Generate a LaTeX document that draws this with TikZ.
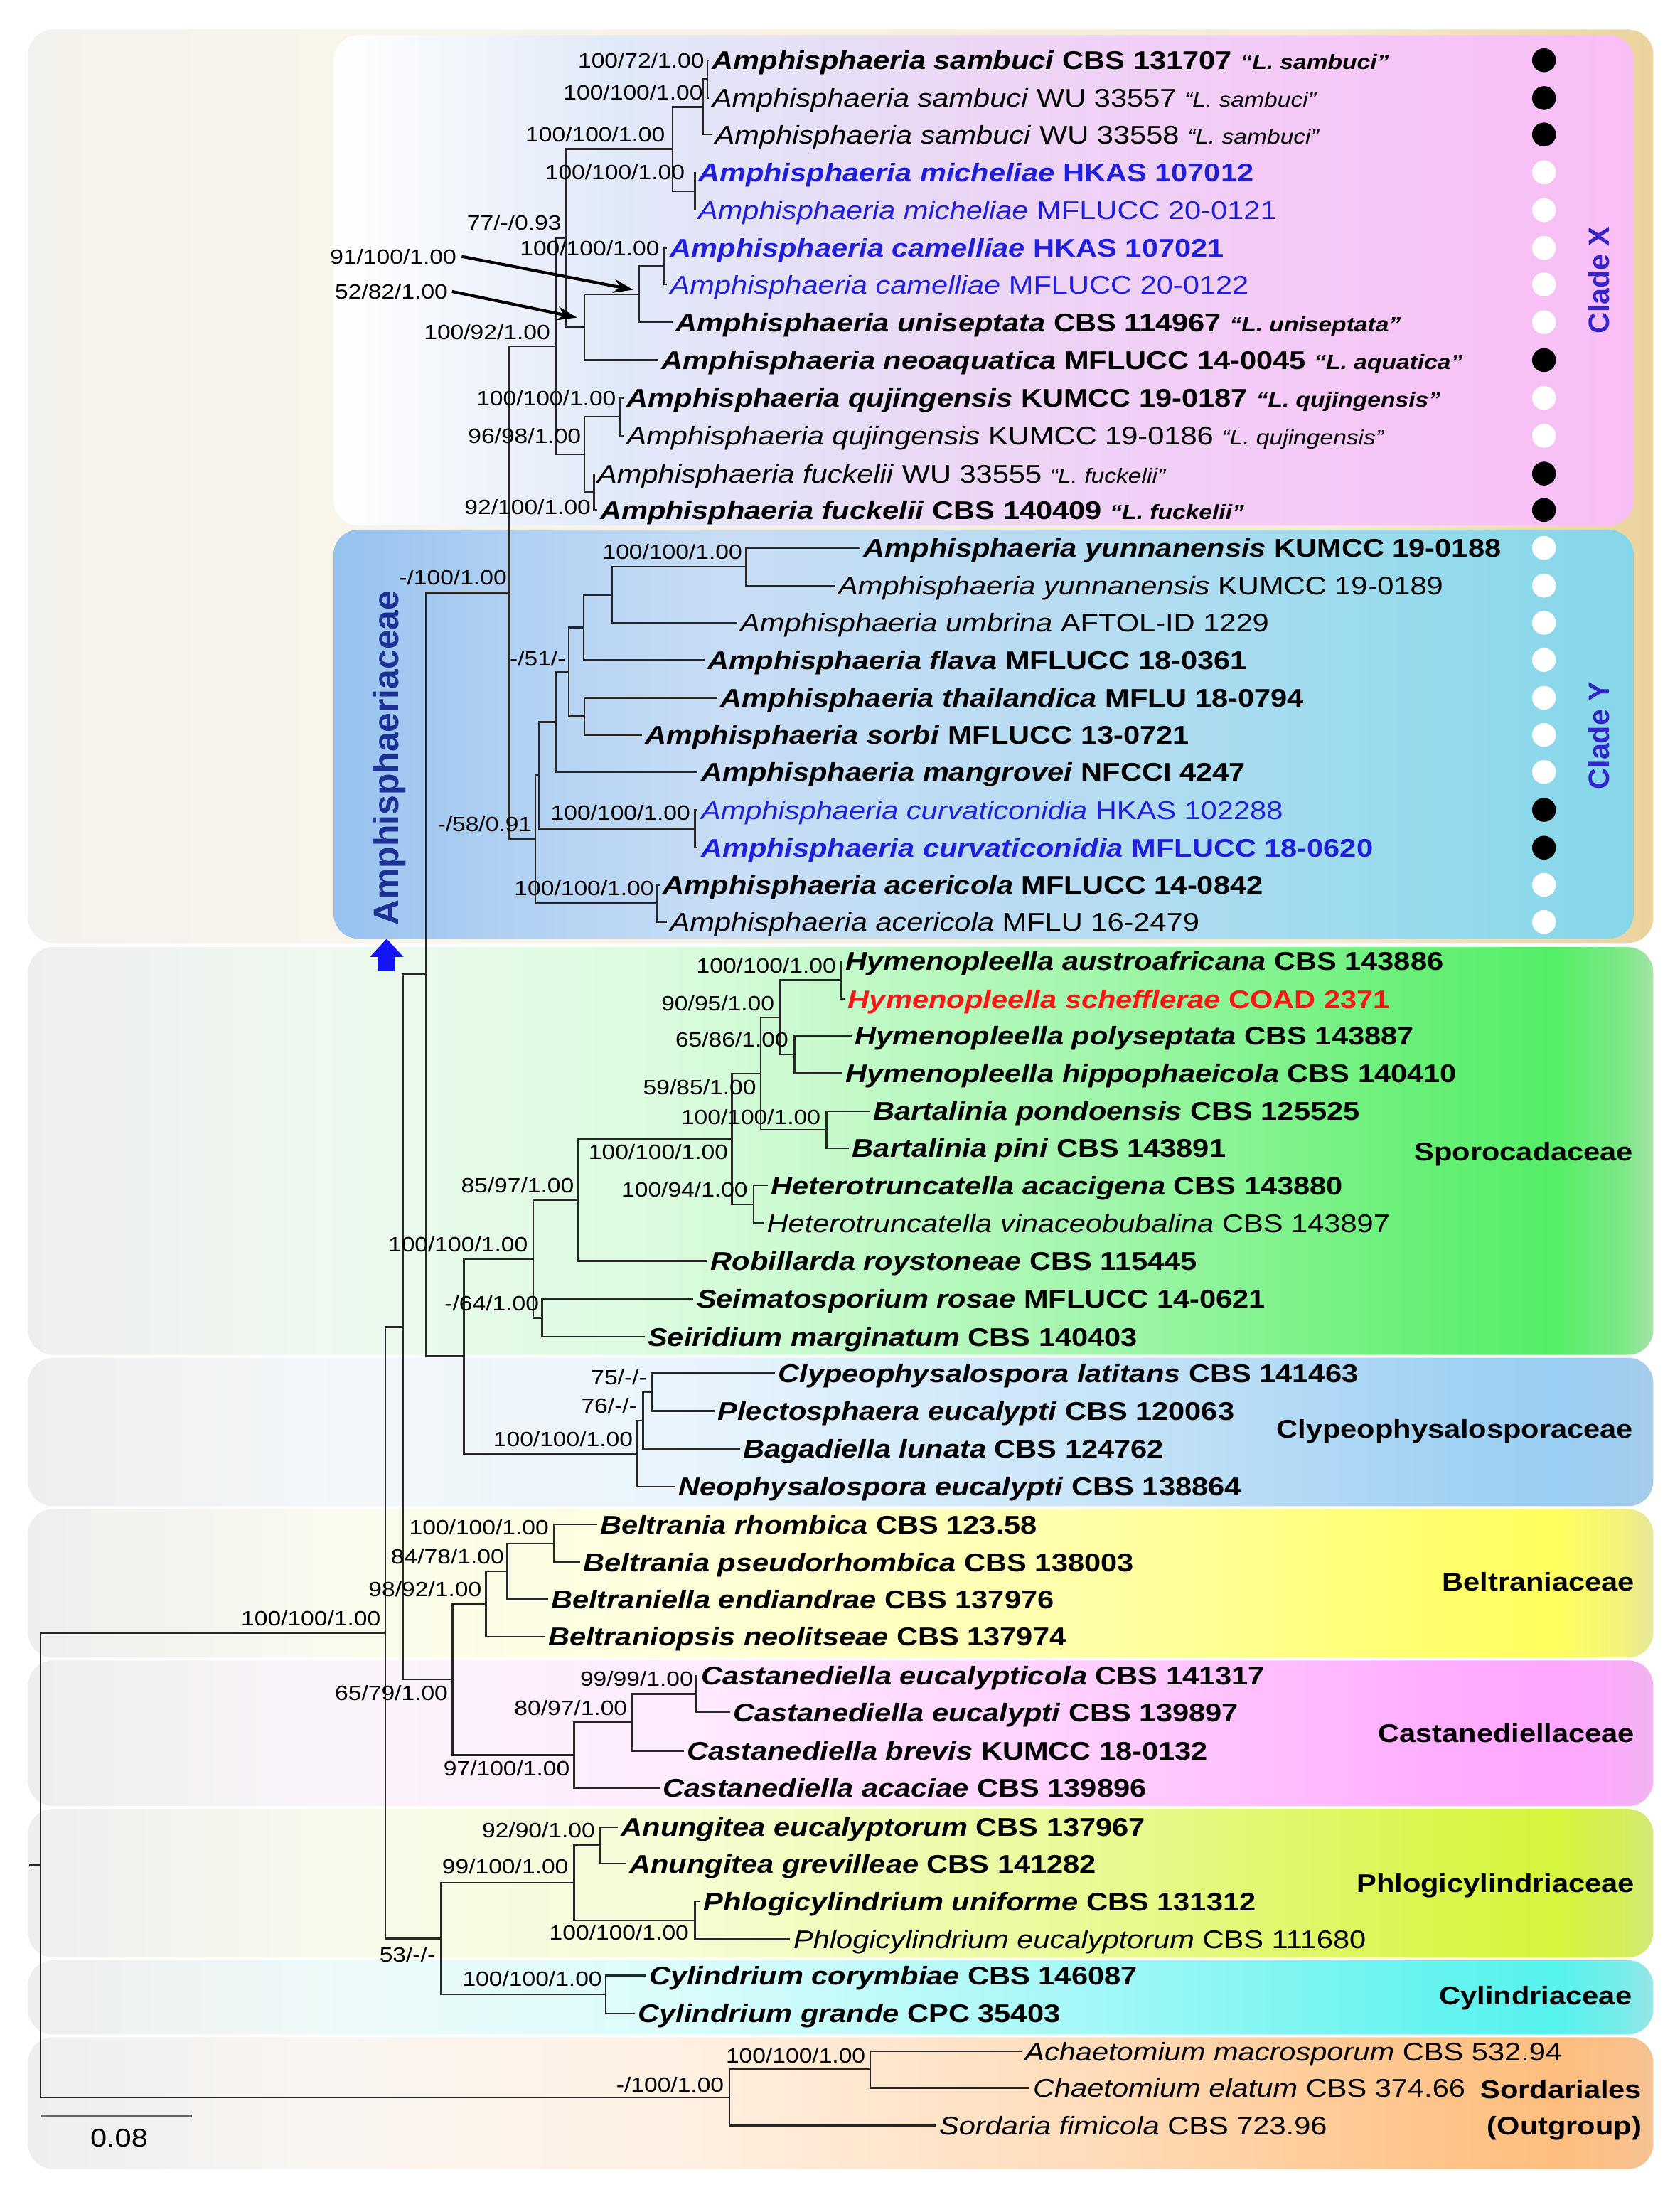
\documentclass[tikz,border=0pt]{standalone}
\usepackage{fontspec}
\setmainfont[FakeStretch=1.155]{Liberation Sans}
\newfontfamily\plainfont{Liberation Sans}
\usetikzlibrary{arrows.meta,calc}

\definecolor{txblue}{RGB}{30,30,220}
\definecolor{txred}{RGB}{255,20,20}
\definecolor{amphblue}{RGB}{28,48,150}
\definecolor{cladeblue}{RGB}{50,35,205}
\definecolor{arrowblue}{RGB}{20,20,250}
\definecolor{ambgA}{HTML}{F4F2EC}
\definecolor{ambgB}{HTML}{FAF5EB}
\definecolor{ambgC}{HTML}{F6EBD2}
\definecolor{ambgD}{HTML}{EAD39C}
\definecolor{cxA}{HTML}{E0E9F8}
\definecolor{cxB}{HTML}{ECD6F5}
\definecolor{cxC}{HTML}{F6C6F6}
\definecolor{cxD}{HTML}{F9BEF6}
\definecolor{cyA}{HTML}{96C2EE}
\definecolor{cyB}{HTML}{ADCFF2}
\definecolor{cyC}{HTML}{C8DDF5}
\definecolor{cyD}{HTML}{B5DCF1}
\definecolor{cyE}{HTML}{93DAEC}
\definecolor{cyF}{HTML}{86D6E9}
\definecolor{famgray}{HTML}{EEEEEE}
\definecolor{sporM}{HTML}{55EE66}\definecolor{sporE}{HTML}{A3E3A6}
\definecolor{clypM}{HTML}{9ACEF2}\definecolor{clypE}{HTML}{A6CCEA}
\definecolor{beltM}{HTML}{FFFF5E}\definecolor{beltE}{HTML}{E6E69A}
\definecolor{castM}{HTML}{FFA6FF}\definecolor{castE}{HTML}{F0B4F0}
\definecolor{phloM}{HTML}{D6F53C}\definecolor{phloE}{HTML}{D2E87A}
\definecolor{cyliM}{HTML}{55F2EE}\definecolor{cyliE}{HTML}{98E6E6}
\definecolor{sordM}{HTML}{FFBE7E}\definecolor{sordE}{HTML}{F4C294}

\pgfdeclarehorizontalshading{shAmph}{100bp}{color(0bp)=(ambgA); color(25bp)=(ambgA); color(35bp)=(ambgB); color(65bp)=(ambgC); color(75bp)=(ambgD); color(100bp)=(ambgD)}
\pgfdeclarehorizontalshading{shX}{100bp}{color(0bp)=(white); color(25bp)=(white); color(36bp)=(cxA); color(50bp)=(cxB); color(66bp)=(cxC); color(75bp)=(cxD); color(100bp)=(cxD)}
\pgfdeclarehorizontalshading{shY}{100bp}{color(0bp)=(cyA); color(25bp)=(cyA); color(31bp)=(cyB); color(40bp)=(cyC); color(55bp)=(cyD); color(68bp)=(cyE); color(75bp)=(cyF); color(100bp)=(cyF)}
\newcommand{\famshade}[3]{%
 \pgfdeclarehorizontalshading{#1}{100bp}{color(0bp)=(famgray); color(25bp)=(famgray); color(34bp)=(#2!7!white!98!black); color(45bp)=(#2!22!white); color(58bp)=(#2!55!white); color(68bp)=(#2!90!white); color(72bp)=(#2); color(74bp)=(#2!50!#3); color(75bp)=(#3); color(100bp)=(#3)}}
\famshade{shSpor}{sporM}{sporE}
\famshade{shClyp}{clypM}{clypE}
\famshade{shBelt}{beltM}{beltE}
\famshade{shCast}{castM}{castE}
\famshade{shPhlo}{phloM}{phloE}
\famshade{shCyli}{cyliM}{cyliE}
\famshade{shSord}{sordM}{sordE}

\newcommand{\taxfont}{\fontsize{10.4}{12.5}\selectfont}
\newcommand{\supfont}{\fontsize{8.4}{10}\selectfont}
\newcommand{\qufont}{\fontsize{8.4}{10}\selectfont}
\newcommand{\TaxB}[2]{\textbf{\textit{#1} #2}}
\newcommand{\TaxN}[2]{\textit{#1} #2}
\newcommand{\QuB}[1]{{\qufont\bfseries\itshape “#1”}}
\newcommand{\QuN}[1]{{\qufont\itshape “#1”}}
\newcommand{\Row}[4]{\coordinate (p#1) at ({#2-2},#3); \node[tx] (t#1) at (#2,{#3+6.6}) {#4};}
\newcommand{\Sup}[4]{\node[sup] (#1) at (#2,{#3+5.3}) {#4};}
\newcommand{\Br}[2]{\draw[br] (#1) |- (#2);}

\begin{document}
\begin{tikzpicture}[x=0.02cm,y=-0.02cm,
  tx/.style={anchor=base west, inner sep=0pt, font=\taxfont},
  sup/.style={anchor=base east, inner sep=0pt, font=\supfont},
  fam/.style={anchor=base east, inner sep=0pt, font=\taxfont\bfseries},
  br/.style={line width=0.7pt, draw=black!85},
  arr/.style={line width=1.2pt, draw=black, -{Stealth[length=8pt,width=5.5pt]}},
  dotk/.style={circle, fill=black, minimum size=0.34cm, inner sep=0pt},
  dotw/.style={circle, fill=white, minimum size=0.34cm, inner sep=0pt},
  panel/.style={rounded corners=0.36cm}]
\useasboundingbox (0,0) rectangle (1199,1568);
\fill[white] (0,0) rectangle (1199,1568);

% ---------- panels ----------
\path[panel, shading=shAmph] (20,21) rectangle (1180,673);
\path[panel, shading=shX] (238,25) rectangle (1166,375);
\path[panel, shading=shY] (238,378) rectangle (1166,670);
\path[panel, shading=shSpor] (20,676) rectangle (1180,967);
\path[panel, shading=shClyp] (20,969) rectangle (1180,1075);
\path[panel, shading=shBelt] (20,1077) rectangle (1180,1183);
\path[panel, shading=shCast] (20,1185) rectangle (1180,1289);
\path[panel, shading=shPhlo] (20,1291) rectangle (1180,1397);
\path[panel, shading=shCyli] (20,1399) rectangle (1180,1452);
\path[panel, shading=shSord] (20,1454) rectangle (1180,1548);

% ---------- taxa ----------
\Row{1}{508}{43}{\TaxB{Amphisphaeria sambuci}{CBS 131707} \QuB{L. sambuci}}
\Row{2}{508}{70}{\TaxN{Amphisphaeria sambuci}{WU 33557} \QuN{L. sambuci}}
\Row{3}{510}{96}{\TaxN{Amphisphaeria sambuci}{WU 33558} \QuN{L. sambuci}}
\Row{4}{498}{123}{\color{txblue}\TaxB{Amphisphaeria micheliae}{HKAS 107012}}
\Row{5}{498}{150}{\color{txblue}\TaxN{Amphisphaeria micheliae}{MFLUCC 20-0121}}
\Row{6}{478}{177}{\color{txblue}\TaxB{Amphisphaeria camelliae}{HKAS 107021}}
\Row{7}{478}{203}{\color{txblue}\TaxN{Amphisphaeria camelliae}{MFLUCC 20-0122}}
\Row{8}{482}{230}{\TaxB{Amphisphaeria uniseptata}{CBS 114967} \QuB{L. uniseptata}}
\Row{9}{472}{257}{\TaxB{Amphisphaeria neoaquatica}{MFLUCC 14-0045} \QuB{L. aquatica}}
\Row{10}{447}{284}{\TaxB{Amphisphaeria qujingensis}{KUMCC 19-0187} \QuB{L. qujingensis}}
\Row{11}{447}{311}{\TaxN{Amphisphaeria qujingensis}{KUMCC 19-0186} \QuN{L. qujingensis}}
\Row{12}{426}{338}{\TaxN{Amphisphaeria fuckelii}{WU 33555} \QuN{L. fuckelii}}
\Row{13}{428}{364}{\TaxB{Amphisphaeria fuckelii}{CBS 140409} \QuB{L. fuckelii}}
\Row{14}{616}{391}{\TaxB{Amphisphaeria yunnanensis}{KUMCC 19-0188}}
\Row{15}{598}{418}{\TaxN{Amphisphaeria yunnanensis}{KUMCC 19-0189}}
\Row{16}{528}{444.5}{\TaxN{Amphisphaeria umbrina}{AFTOL-ID 1229}}
\Row{17}{505}{471}{\TaxB{Amphisphaeria flava}{MFLUCC 18-0361}}
\Row{18}{514}{498}{\TaxB{Amphisphaeria thailandica}{MFLU 18-0794}}
\Row{19}{460}{524.5}{\TaxB{Amphisphaeria sorbi}{MFLUCC 13-0721}}
\Row{20}{500}{551}{\TaxB{Amphisphaeria mangrovei}{NFCCI 4247}}
\Row{21}{500}{578}{\color{txblue}\TaxN{Amphisphaeria curvaticonidia}{HKAS 102288}}
\Row{22}{500}{605}{\color{txblue}\TaxB{Amphisphaeria curvaticonidia}{MFLUCC 18-0620}}
\Row{23}{473}{631.5}{\TaxB{Amphisphaeria acericola}{MFLUCC 14-0842}}
\Row{24}{478}{658}{\TaxN{Amphisphaeria acericola}{MFLU 16-2479}}
\Row{25}{603}{686}{\TaxB{Hymenopleella austroafricana}{CBS 143886}}
\Row{26}{605}{713}{\color{txred}\TaxB{Hymenopleella schefflerae}{COAD 2371}}
\Row{27}{610}{739}{\TaxB{Hymenopleella polyseptata}{CBS 143887}}
\Row{28}{603}{766}{\TaxB{Hymenopleella hippophaeicola}{CBS 140410}}
\Row{29}{623}{793}{\TaxB{Bartalinia pondoensis}{CBS 125525}}
\Row{30}{608}{819.5}{\TaxB{Bartalinia pini}{CBS 143891}}
\Row{31}{550}{846}{\TaxB{Heterotruncatella acacigena}{CBS 143880}}
\Row{32}{547}{873}{\TaxN{Heterotruncatella vinaceobubalina}{CBS 143897}}
\Row{33}{507}{900}{\TaxB{Robillarda roystoneae}{CBS 115445}}
\Row{34}{497}{927}{\TaxB{Seimatosporium rosae}{MFLUCC 14-0621}}
\Row{35}{462}{954}{\TaxB{Seiridium marginatum}{CBS 140403}}
\Row{36}{555}{980}{\TaxB{Clypeophysalospora latitans}{CBS 141463}}
\Row{37}{512}{1007}{\TaxB{Plectosphaera eucalypti}{CBS 120063}}
\Row{38}{530}{1034}{\TaxB{Bagadiella lunata}{CBS 124762}}
\Row{39}{484}{1061}{\TaxB{Neophysalospora eucalypti}{CBS 138864}}
\Row{40}{428}{1088}{\TaxB{Beltrania rhombica}{CBS 123.58}}
\Row{41}{416}{1115}{\TaxB{Beltrania pseudorhombica}{CBS 138003}}
\Row{42}{393}{1141.5}{\TaxB{Beltraniella endiandrae}{CBS 137976}}
\Row{43}{391}{1168}{\TaxB{Beltraniopsis neolitseae}{CBS 137974}}
\Row{44}{500}{1196}{\TaxB{Castanediella eucalypticola}{CBS 141317}}
\Row{45}{523}{1222}{\TaxB{Castanediella eucalypti}{CBS 139897}}
\Row{46}{490}{1249.5}{\TaxB{Castanediella brevis}{KUMCC 18-0132}}
\Row{47}{473}{1276}{\TaxB{Castanediella acaciae}{CBS 139896}}
\Row{48}{443}{1304}{\TaxB{Anungitea eucalyptorum}{CBS 137967}}
\Row{49}{449}{1330}{\TaxB{Anungitea grevilleae}{CBS 141282}}
\Row{50}{502}{1357}{\TaxB{Phlogicylindrium uniforme}{CBS 131312}}
\Row{51}{566}{1384}{\TaxN{Phlogicylindrium eucalyptorum}{CBS 111680}}
\Row{52}{463}{1410}{\TaxB{Cylindrium corymbiae}{CBS 146087}}
\Row{53}{455}{1437}{\TaxB{Cylindrium grande}{CPC 35403}}
\Row{54}{731}{1464}{\TaxN{Achaetomium macrosporum}{CBS 532.94}}
\Row{55}{737}{1490}{\TaxN{Chaetomium elatum}{CBS 374.66}}
\Row{56}{670}{1517}{\TaxN{Sordaria fimicola}{CBS 723.96}}

% ---------- internal nodes ----------
\coordinate (S12) at (505,56.5);
\coordinate (S123) at (502,76.3);
\coordinate (M) at (496,136.5);
\coordinate (SM) at (480,106.4);
\coordinate (C) at (474,190);
\coordinate (CU) at (456,210);
\coordinate (CUN) at (417,233.5);
\coordinate (X1) at (404,170);
\coordinate (Q) at (442.5,297.5);
\coordinate (F) at (424,351);
\coordinate (QF) at (417,324.2);
\coordinate (X2) at (397,247);
\coordinate (YN) at (532.5,404.5);
\coordinate (YU) at (437,424.5);
\coordinate (YUF) at (416.6,447.75);
\coordinate (TS) at (417,511.25);
\coordinate (Y4) at (406,479.5);
\coordinate (Y5) at (396.6,515.25);
\coordinate (CV) at (496,591.5);
\coordinate (Y6) at (384.5,553.4);
\coordinate (AC) at (469,644.75);
\coordinate (Ytop) at (382,599);
\coordinate (XY) at (363,423);
\coordinate (H12) at (600,699.5);
\coordinate (H34) at (567,752.5);
\coordinate (H) at (557,726);
\coordinate (B) at (590,806.25);
\coordinate (HB) at (543,766.1);
\coordinate (HT) at (538,859.5);
\coordinate (HBT) at (522.4,812.8);
\coordinate (R) at (412.5,856.4);
\coordinate (SS) at (387,940.5);
\coordinate (S0) at (380.6,898.45);
\coordinate (CP) at (465,993.5);
\coordinate (CPB) at (459,1013.75);
\coordinate (CL0) at (454.4,1037.4);
\coordinate (SC) at (331,967.9);
\coordinate (A0) at (304,695.5);
\coordinate (BR) at (395.4,1101.5);
\coordinate (BR2) at (362,1121.5);
\coordinate (BR3) at (346.8,1144.75);
\coordinate (CE) at (497,1209);
\coordinate (CE2) at (451.3,1229.25);
\coordinate (CE3) at (409.8,1252.6);
\coordinate (BC) at (323,1198.7);
\coordinate (N287) at (287.4,947.1);
\coordinate (AN) at (428.4,1317);
\coordinate (PU) at (496,1370.5);
\coordinate (PH) at (409.8,1343.75);
\coordinate (CY) at (432.3,1423.5);
\coordinate (PC) at (314.6,1383.6);
\coordinate (N275) at (275,1165.35);
\coordinate (CH) at (621,1477);
\coordinate (OG) at (520.5,1497);
\coordinate (ROOT) at (29,1331.2);
\coordinate (rt) at (21,1331.2);

% ---------- branches ----------
\Br{S12}{p1}\Br{S12}{p2}\Br{S123}{S12}\Br{S123}{p3}\Br{M}{p4}\Br{M}{p5}\Br{SM}{S123}\Br{SM}{M}
\Br{C}{p6}\Br{C}{p7}\Br{CU}{C}\Br{CU}{p8}\Br{CUN}{CU}\Br{CUN}{p9}\Br{X1}{SM}\Br{X1}{CUN}
\Br{Q}{p10}\Br{Q}{p11}\Br{F}{p12}\Br{F}{p13}\Br{QF}{Q}\Br{QF}{F}\Br{X2}{X1}\Br{X2}{QF}
\Br{YN}{p14}\Br{YN}{p15}\Br{YU}{YN}\Br{YU}{p16}\Br{YUF}{YU}\Br{YUF}{p17}\Br{TS}{p18}\Br{TS}{p19}
\Br{Y4}{YUF}\Br{Y4}{TS}\Br{Y5}{Y4}\Br{Y5}{p20}\Br{CV}{p21}\Br{CV}{p22}\Br{Y6}{Y5}\Br{Y6}{CV}
\Br{AC}{p23}\Br{AC}{p24}\Br{Ytop}{Y6}\Br{Ytop}{AC}\Br{XY}{X2}\Br{XY}{Ytop}\Br{A0}{XY}\Br{A0}{SC}
\Br{H12}{p25}\Br{H12}{p26}\Br{H34}{p27}\Br{H34}{p28}\Br{H}{H12}\Br{H}{H34}\Br{B}{p29}\Br{B}{p30}
\Br{HB}{H}\Br{HB}{B}\Br{HT}{p31}\Br{HT}{p32}\Br{HBT}{HB}\Br{HBT}{HT}\Br{R}{HBT}\Br{R}{p33}
\Br{SS}{p34}\Br{SS}{p35}\Br{S0}{R}\Br{S0}{SS}
\Br{CP}{p36}\Br{CP}{p37}\Br{CPB}{CP}\Br{CPB}{p38}\Br{CL0}{CPB}\Br{CL0}{p39}\Br{SC}{S0}\Br{SC}{CL0}
\Br{BR}{p40}\Br{BR}{p41}\Br{BR2}{BR}\Br{BR2}{p42}\Br{BR3}{BR2}\Br{BR3}{p43}
\Br{CE}{p44}\Br{CE}{p45}\Br{CE2}{CE}\Br{CE2}{p46}\Br{CE3}{CE2}\Br{CE3}{p47}\Br{BC}{BR3}\Br{BC}{CE3}
\Br{N287}{A0}\Br{N287}{BC}
\Br{AN}{p48}\Br{AN}{p49}\Br{PU}{p50}\Br{PU}{p51}\Br{PH}{AN}\Br{PH}{PU}\Br{CY}{p52}\Br{CY}{p53}
\Br{PC}{PH}\Br{PC}{CY}\Br{N275}{N287}\Br{N275}{PC}
\Br{CH}{p54}\Br{CH}{p55}\Br{OG}{CH}\Br{OG}{p56}\Br{ROOT}{N275}\Br{ROOT}{OG}
\draw[br] (rt) -- (ROOT);

% ---------- support values ----------
\Sup{s1}{503}{43}{100/72/1.00}
\Sup{s2}{502}{66}{100/100/1.00}
\Sup{s3}{475}{96}{100/100/1.00}
\Sup{s4}{489}{123}{100/100/1.00}
\Sup{s5}{401}{159}{77/-/0.93}
\Sup{s6}{471}{177}{100/100/1.00}
\Sup{s7}{326}{183}{91/100/1.00}
\Sup{s8}{320}{208}{52/82/1.00}
\Sup{s9}{393}{237}{100/92/1.00}
\Sup{s10}{440}{284}{100/100/1.00}
\Sup{s11}{415}{311}{96/98/1.00}
\Sup{s12}{422}{362}{92/100/1.00}
\Sup{s13}{362}{412}{-/100/1.00}
\Sup{s14}{530}{394}{100/100/1.00}
\Sup{s15}{404}{470}{-/51/-}
\Sup{s16}{493}{580}{100/100/1.00}
\Sup{s17}{380}{588}{-/58/0.91}
\Sup{s18}{467}{634}{100/100/1.00}
\Sup{s19}{597}{689}{100/100/1.00}
\Sup{s20}{553}{716}{90/95/1.00}
\Sup{s21}{563}{742}{65/86/1.00}
\Sup{s22}{540}{776}{59/85/1.00}
\Sup{s23}{586}{797}{100/100/1.00}
\Sup{s24}{520}{822}{100/100/1.00}
\Sup{s25}{410}{846}{85/97/1.00}
\Sup{s26}{534}{849}{100/94/1.00}
\Sup{s27}{377}{888}{100/100/1.00}
\Sup{s28}{385}{930}{-/64/1.00}
\Sup{s29}{462}{983}{75/-/-}
\Sup{s30}{455}{1003}{76/-/-}
\Sup{s31}{452}{1027}{100/100/1.00}
\Sup{s32}{392}{1090}{100/100/1.00}
\Sup{s33}{360}{1111}{84/78/1.00}
\Sup{s34}{344}{1134}{98/92/1.00}
\Sup{s35}{495}{1198}{99/99/1.00}
\Sup{s36}{448}{1219}{80/97/1.00}
\Sup{s37}{407}{1262}{97/100/1.00}
\Sup{s38}{320}{1208}{65/79/1.00}
\Sup{s39}{272}{1155}{100/100/1.00}
\Sup{s40}{425}{1306}{92/90/1.00}
\Sup{s41}{406}{1332}{99/100/1.00}
\Sup{s42}{492}{1379}{100/100/1.00}
\Sup{s43}{430}{1412}{100/100/1.00}
\Sup{s44}{311}{1395}{53/-/-}
\Sup{s45}{618}{1467}{100/100/1.00}
\Sup{s46}{517}{1488}{-/100/1.00}

% ---------- pointer arrows ----------
\coordinate (a91) at (452,206.8);
\coordinate (a52) at (411.8,226.6);
\draw[arr] ([xshift=2pt]s7.east) -- (a91);
\draw[arr] ([xshift=1.5pt]s8.east) -- (a52);

% ---------- dots ----------
\foreach \yy/\st [count=\i] in {43/dotk,70/dotk,96/dotk,123/dotw,150/dotw,177/dotw,203/dotw,230/dotw,257/dotk,284/dotw,311/dotw,338/dotk,364/dotk,391/dotw,418/dotw,444.5/dotw,471/dotw,498/dotw,524.5/dotw,551/dotw,578/dotk,605/dotk,631.5/dotw,658/dotw}
  \node[\st] (d\i) at (1102,\yy) {};

% ---------- group labels ----------
\node[rotate=90, inner sep=0pt, text=amphblue, font={\plainfont\bfseries\fontsize{14.4}{16}\selectfont}] (amph) at (278,541) {Amphisphaeriaceae};
\fill[arrowblue] (276,670) -- (288,683) -- (282,683) -- (282,693) -- (270,693) -- (270,683) -- (264,683) -- cycle;
\node[rotate=90, inner sep=0pt, text=cladeblue, font={\plainfont\bfseries\fontsize{11.9}{14}\selectfont}] (cladeX) at (1141,200) {Clade X};
\node[rotate=90, inner sep=0pt, text=cladeblue, font={\plainfont\bfseries\fontsize{11.9}{14}\selectfont}] (cladeY) at (1141,525) {Clade Y};

\node[fam] (f1) at (1166,828.5) {Sporocadaceae};
\node[fam] (f2) at (1166,1026.5) {Clypeophysalosporaceae};
\node[fam] (f3) at (1167,1135.5) {Beltraniaceae};
\node[fam] (f4) at (1167,1243.5) {Castanediellaceae};
\node[fam] (f5) at (1167,1350.5) {Phlogicylindriaceae};
\node[fam] (f6) at (1165,1430.5) {Cylindriaceae};
\node[fam] (f7) at (1172,1497.5) {Sordariales};
\node[fam] (f8) at (1172,1523.5) {(Outgroup)};

% ---------- scale bar ----------
\coordinate (sb1) at (29,1510);
\coordinate (sb2) at (137,1510);
\draw[line width=1.2pt, black!60] (sb1) -- (sb2);
\node[inner sep=0pt, font=\taxfont] (sbl) at (85,1526) {0.08};
\end{tikzpicture}
\end{document}
